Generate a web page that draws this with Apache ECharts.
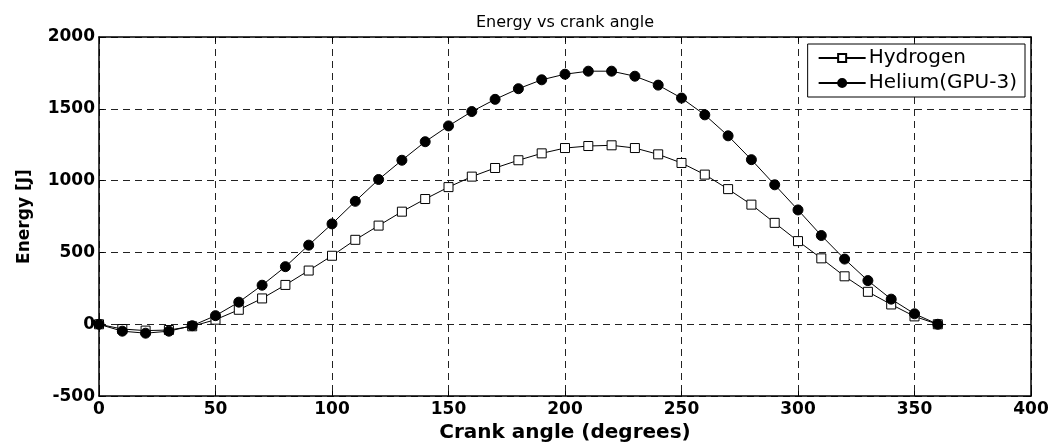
<!DOCTYPE html>
<html>
<head>
<meta charset="utf-8">
<script src="https://cdn.jsdelivr.net/npm/echarts@6/dist/echarts.min.js"></script>
<style>
html,body{margin:0;padding:0;background:#fff;}
#c{width:1057px;height:448px;}
</style>
</head>
<body>
<div id="c"></div>
<script>
const angles = [0,10,20,30,40,50,60,70,80,90,100,110,120,130,140,150,160,170,180,190,200,210,220,230,240,250,260,270,280,290,300,310,320,330,340,350,360];
const hydrogen = [0,-33,-44,-40,-14,32,101,180,274,374,477,588,687,784,872,955,1028,1088,1142,1190,1227,1241,1246,1227,1183,1123,1042,941,833,706,579,459,334,226,138,55,0];
const helium = [0,-48,-62,-48,-10,60,154,272,401,551,699,856,1008,1142,1271,1381,1481,1566,1640,1702,1741,1762,1762,1727,1665,1575,1458,1312,1146,971,796,618,454,304,175,73,0];
const xTicks = [0,50,100,150,200,250,300,350,400];
const yTicks = [-500,0,500,1000,1500,2000];

const chart = echarts.init(document.getElementById('c'));
const font = 'DejaVu Sans, sans-serif';
const pair = a => a.map((v,i)=>[angles[i], v]);
const grid = {color:'#222', type:[7,5], width:1};
chart.setOption({
  animation:false,
  title:{text:'Energy vs crank angle', left:471, top:10,
    textStyle:{fontFamily:font, fontSize:16, fontWeight:'normal', color:'#000'}},
  grid:{left:99, right:26, top:37, bottom:50},
  legend:{
    right:32, top:44, orient:'vertical', itemGap:5, itemWidth:47, itemHeight:10,
    backgroundColor:'#fff', borderColor:'#000', borderWidth:1, padding:[4,8,4,10],
    textStyle:{fontFamily:font, fontSize:20, color:'#000', padding:[0,0,0,-2]},
    data:['Hydrogen','Helium(GPU-3)']
  },
  xAxis:[{
    type:'value', min:0, max:400, interval:50,
    name:'Crank angle (degrees)', nameLocation:'middle', nameGap:25,
    nameTextStyle:{fontFamily:font, fontSize:20, fontWeight:'bold', color:'#000'},
    axisLine:{onZero:false, lineStyle:{color:'#000', width:1.5}},
    axisTick:{inside:true, length:5, lineStyle:{color:'#000'}},
    axisLabel:{fontFamily:font, fontSize:17, fontWeight:'bold', color:'#000', margin:5,
      formatter: v => xTicks.includes(v) ? String(v) : ''},
    splitLine:{show:true, lineStyle:grid}
  },{
    type:'value', min:0, max:400, interval:50, position:'top',
    axisLine:{show:true, onZero:false, lineStyle:{color:'#000', width:1.5}},
    axisTick:{show:true, inside:true, length:5}, axisLabel:{show:false}, splitLine:{show:false}
  }],
  yAxis:[{
    type:'value', min:-500, max:2000, interval:500,
    name:'Energy [J]', nameLocation:'middle', nameGap:66, nameRotate:90,
    nameTextStyle:{fontFamily:font, fontSize:17, fontWeight:'bold', color:'#000'},
    axisLine:{show:true, onZero:false, lineStyle:{color:'#000', width:1.5}},
    axisTick:{show:true, inside:true, length:5, lineStyle:{color:'#000'}},
    axisLabel:{fontFamily:font, fontSize:17, fontWeight:'bold', color:'#000', margin:4,
      formatter: v => yTicks.includes(v) ? String(v) : ''},
    splitLine:{show:true, lineStyle:grid}
  },{
    type:'value', min:-500, max:2000, interval:500, position:'right',
    axisLine:{show:true, onZero:false, lineStyle:{color:'#000', width:1.5}},
    axisTick:{show:true, inside:true, length:5}, axisLabel:{show:false}, splitLine:{show:false}
  }],
  series:[{
    name:'Hydrogen', type:'line', data:pair(hydrogen),
    symbol:'rect', symbolSize:9,
    lineStyle:{color:'#000', width:1},
    itemStyle:{color:'#fff', borderColor:'#000', borderWidth:1},
    z:3
  },{
    name:'Helium(GPU-3)', type:'line', data:pair(helium),
    symbol:'circle', symbolSize:10,
    lineStyle:{color:'#000', width:1},
    itemStyle:{color:'#000', borderColor:'#000', borderWidth:1},
    z:4
  }]
});
</script>
</body>
</html>
